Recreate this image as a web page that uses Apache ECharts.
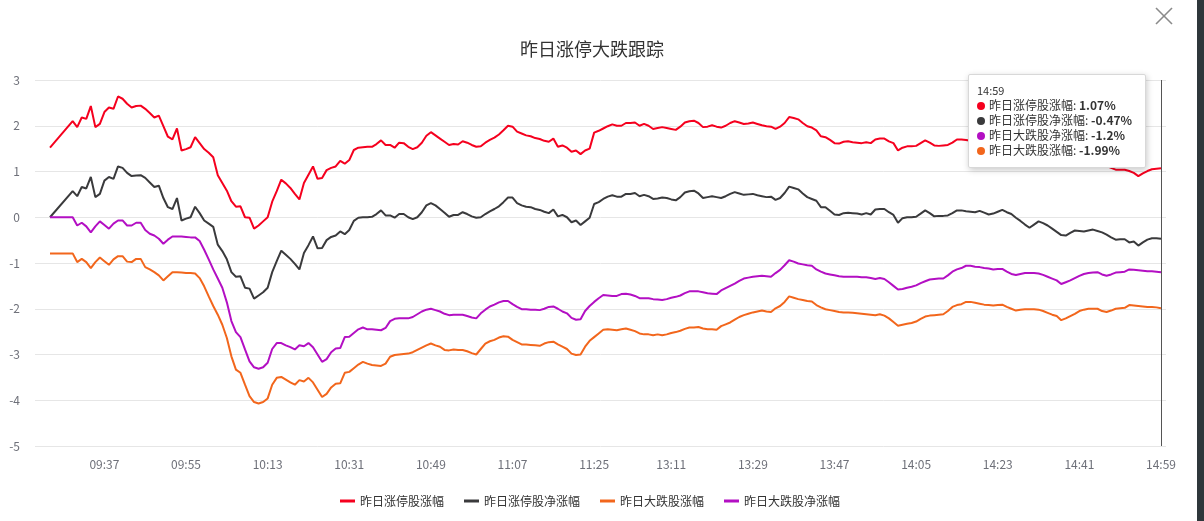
<!DOCTYPE html>
<html><head><meta charset="utf-8">
<script src="https://cdn.jsdelivr.net/npm/echarts/dist/echarts.min.js"></script>
<style>html,body{margin:0;padding:0;background:#fff;}#c{width:1204px;height:521px;}</style>
</head><body><div id="c"></div><script>
// categories: every minute 09:25-11:30 and 13:00-14:59
const times = [];
function pushRange(h1, m1, h2, m2) {
  for (let t = h1 * 60 + m1; t <= h2 * 60 + m2; t++) {
    const h = Math.floor(t / 60), m = t % 60;
    times.push((h < 10 ? '0' : '') + h + ':' + (m < 10 ? '0' : '') + m);
  }
}
pushRange(9, 25, 11, 30);
pushRange(13, 0, 14, 59);

const tickLabels = ['09:37','09:55','10:13','10:31','10:49','11:07','11:25','13:11','13:29','13:47','14:05','14:23','14:41','14:59'];
const yTicks = { min: -5, max: 3, interval: 1 };
const seriesNames = ['昨日涨停股涨幅','昨日涨停股净涨幅','昨日大跌股净涨幅','昨日大跌股涨幅'];
const legendOrder = ['昨日涨停股涨幅','昨日涨停股净涨幅','昨日大跌股涨幅','昨日大跌股净涨幅'];
const colors = ['#f5001e','#3a3a3c','#b30fc3','#f2661c'];

const limitUp = [1.52,null,null,null,null,2.10,1.97,2.18,2.15,2.43,
1.97,2.04,2.30,2.40,2.37,2.64,2.59,2.48,2.40,2.43,
2.44,2.37,2.28,2.18,2.22,1.99,1.76,1.70,1.94,1.46,
1.49,1.53,1.75,1.62,1.49,1.41,1.31,0.92,0.75,0.58,
0.35,0.23,0.24,0.00,-0.01,-0.25,-0.18,-0.09,0.00,0.34,
0.57,0.82,0.74,0.64,0.51,0.39,0.75,0.93,1.11,0.84,
0.86,1.03,1.08,1.11,1.23,1.17,1.25,1.47,1.52,1.53,
1.54,1.54,1.60,1.68,1.58,1.58,1.52,1.63,1.62,1.54,
1.49,1.53,1.63,1.78,1.86,1.79,1.72,1.65,1.58,1.60,
1.59,1.66,1.63,1.58,1.54,1.55,1.63,1.69,1.74,1.81,
1.90,2.00,1.98,1.87,1.83,1.79,1.77,1.73,1.71,1.67,
1.65,1.72,1.54,1.57,1.52,1.43,1.46,1.38,1.46,1.50,
1.85,1.89,1.94,1.99,2.03,2.00,2.00,2.06,2.06,2.07,
2.00,2.04,2.00,1.93,1.95,1.97,1.95,1.93,1.91,1.98,
2.07,2.10,2.11,2.06,1.97,1.98,2.01,1.98,1.96,2.00,
2.06,2.10,2.07,2.04,2.05,2.07,2.04,2.01,1.99,1.98,
1.93,1.98,2.06,2.19,2.17,2.14,2.06,1.99,1.96,1.90,
1.77,1.75,1.69,1.62,1.61,1.65,1.66,1.64,1.63,1.62,
1.64,1.62,1.70,1.72,1.72,1.66,1.62,1.46,1.52,1.55,
1.55,1.56,1.62,1.68,1.63,1.57,1.56,1.57,1.58,1.63,
1.70,1.70,1.69,1.67,1.66,1.65,1.66,1.66,1.67,1.69,
1.71,1.66,1.60,1.53,1.46,1.40,1.33,1.38,1.42,1.37,
1.31,1.27,1.22,1.19,1.21,1.24,1.25,1.26,1.26,1.26,
1.26,1.21,1.17,1.12,1.08,1.04,1.04,1.04,1.01,0.97,
0.90,0.96,1.01,1.05,1.06,1.07];

const limitUpNet = [0.00,null,null,null,null,0.57,0.46,0.66,0.63,0.88,
0.44,0.51,0.80,0.88,0.84,1.11,1.08,0.97,0.90,0.91,
0.92,0.86,0.76,0.66,0.69,0.42,0.22,0.18,0.42,-0.07,
-0.03,0.00,0.23,0.09,-0.07,-0.14,-0.21,-0.60,-0.74,-0.92,
-1.20,-1.30,-1.29,-1.54,-1.56,-1.78,-1.71,-1.64,-1.54,-1.20,
-0.96,-0.73,-0.82,-0.91,-1.02,-1.14,-0.78,-0.61,-0.42,-0.68,
-0.67,-0.50,-0.43,-0.40,-0.31,-0.37,-0.28,-0.08,-0.01,0.00,
0.00,0.01,0.07,0.15,0.04,0.04,-0.01,0.07,0.07,0.00,
-0.04,0.00,0.11,0.26,0.31,0.26,0.18,0.10,0.01,0.05,
0.05,0.11,0.07,0.02,-0.01,0.00,0.07,0.13,0.18,0.24,
0.33,0.43,0.43,0.31,0.26,0.23,0.22,0.18,0.16,0.12,
0.09,0.17,0.02,0.05,0.00,-0.11,-0.07,-0.17,-0.09,-0.01,
0.29,0.33,0.40,0.45,0.48,0.45,0.45,0.51,0.51,0.53,
0.46,0.49,0.46,0.40,0.41,0.43,0.42,0.39,0.37,0.44,
0.54,0.57,0.58,0.52,0.42,0.44,0.46,0.44,0.42,0.46,
0.51,0.55,0.52,0.49,0.50,0.51,0.48,0.46,0.44,0.45,
0.38,0.42,0.53,0.67,0.64,0.61,0.52,0.44,0.40,0.36,
0.22,0.22,0.14,0.06,0.05,0.09,0.10,0.09,0.08,0.06,
0.09,0.06,0.17,0.18,0.18,0.11,0.05,-0.12,-0.02,0.00,
0.00,0.01,0.08,0.15,0.09,0.02,0.03,0.03,0.04,0.09,
0.15,0.15,0.13,0.12,0.11,0.14,0.10,0.06,0.08,0.12,
0.16,0.11,0.07,-0.01,-0.08,-0.16,-0.23,-0.16,-0.09,-0.13,
-0.18,-0.25,-0.32,-0.39,-0.40,-0.34,-0.29,-0.30,-0.31,-0.29,
-0.27,-0.30,-0.33,-0.38,-0.44,-0.49,-0.48,-0.48,-0.55,-0.53,
-0.62,-0.55,-0.49,-0.46,-0.46,-0.47];

const dropNet = [0.00,null,null,null,null,0.00,-0.18,-0.12,-0.20,-0.33,
-0.20,-0.09,-0.17,-0.25,-0.14,-0.07,-0.07,-0.18,-0.18,-0.12,
-0.12,-0.28,-0.36,-0.40,-0.47,-0.58,-0.49,-0.42,-0.42,-0.42,
-0.43,-0.44,-0.44,-0.52,-0.71,-0.92,-1.14,-1.34,-1.54,-1.86,
-2.27,-2.51,-2.62,-2.89,-3.15,-3.28,-3.31,-3.28,-3.18,-2.88,
-2.75,-2.75,-2.80,-2.84,-2.89,-2.80,-2.82,-2.75,-2.84,-3.00,
-3.16,-3.10,-2.95,-2.87,-2.86,-2.62,-2.61,-2.53,-2.45,-2.41,
-2.45,-2.45,-2.46,-2.47,-2.42,-2.27,-2.22,-2.21,-2.21,-2.21,
-2.18,-2.12,-2.06,-2.02,-2.00,-2.03,-2.06,-2.11,-2.14,-2.13,
-2.13,-2.13,-2.16,-2.19,-2.21,-2.10,-2.02,-1.95,-1.91,-1.86,
-1.83,-1.83,-1.90,-1.96,-2.01,-2.01,-2.02,-2.02,-2.03,-2.00,
-1.96,-1.95,-2.00,-2.06,-2.10,-2.20,-2.24,-2.23,-2.05,-1.94,
-1.85,-1.77,-1.70,-1.71,-1.72,-1.72,-1.68,-1.67,-1.69,-1.72,
-1.77,-1.77,-1.77,-1.79,-1.80,-1.81,-1.79,-1.76,-1.74,-1.71,
-1.66,-1.62,-1.62,-1.62,-1.64,-1.66,-1.67,-1.68,-1.60,-1.55,
-1.50,-1.45,-1.39,-1.34,-1.32,-1.30,-1.29,-1.28,-1.29,-1.30,
-1.22,-1.15,-1.05,-0.94,-0.97,-1.01,-1.03,-1.05,-1.06,-1.14,
-1.19,-1.23,-1.25,-1.27,-1.29,-1.30,-1.30,-1.30,-1.30,-1.31,
-1.31,-1.33,-1.35,-1.33,-1.35,-1.42,-1.50,-1.58,-1.57,-1.54,
-1.52,-1.49,-1.44,-1.40,-1.36,-1.35,-1.34,-1.34,-1.27,-1.19,
-1.14,-1.11,-1.06,-1.06,-1.08,-1.09,-1.11,-1.12,-1.14,-1.13,
-1.13,-1.19,-1.24,-1.26,-1.24,-1.22,-1.22,-1.22,-1.23,-1.26,
-1.30,-1.34,-1.38,-1.46,-1.42,-1.38,-1.33,-1.28,-1.24,-1.22,
-1.21,-1.20,-1.25,-1.28,-1.25,-1.21,-1.20,-1.19,-1.14,-1.15,
-1.16,-1.17,-1.18,-1.18,-1.19,-1.20];

const dropChg = [-0.79,null,null,null,null,-0.79,-0.98,-0.91,-0.98,-1.11,
-0.98,-0.88,-0.96,-1.04,-0.92,-0.85,-0.85,-0.97,-0.98,-0.91,
-0.91,-1.09,-1.14,-1.20,-1.27,-1.38,-1.29,-1.20,-1.20,-1.21,
-1.22,-1.22,-1.23,-1.33,-1.51,-1.73,-1.94,-2.13,-2.35,-2.64,
-3.04,-3.33,-3.40,-3.66,-3.91,-4.04,-4.07,-4.04,-3.96,-3.66,
-3.51,-3.49,-3.55,-3.61,-3.66,-3.56,-3.59,-3.51,-3.61,-3.77,
-3.93,-3.86,-3.72,-3.64,-3.63,-3.40,-3.38,-3.30,-3.22,-3.16,
-3.20,-3.23,-3.24,-3.25,-3.20,-3.05,-3.01,-3.00,-2.99,-2.98,
-2.95,-2.90,-2.85,-2.80,-2.76,-2.80,-2.83,-2.90,-2.91,-2.89,
-2.90,-2.90,-2.93,-2.97,-3.00,-2.88,-2.76,-2.71,-2.68,-2.63,
-2.60,-2.61,-2.68,-2.73,-2.78,-2.78,-2.79,-2.80,-2.81,-2.76,
-2.73,-2.72,-2.78,-2.83,-2.88,-2.98,-3.01,-3.00,-2.83,-2.70,
-2.62,-2.54,-2.46,-2.45,-2.46,-2.47,-2.45,-2.43,-2.46,-2.49,
-2.54,-2.56,-2.56,-2.58,-2.56,-2.58,-2.56,-2.53,-2.51,-2.48,
-2.44,-2.41,-2.41,-2.40,-2.43,-2.45,-2.45,-2.46,-2.38,-2.34,
-2.30,-2.24,-2.18,-2.14,-2.11,-2.08,-2.06,-2.04,-2.06,-2.07,
-1.99,-1.94,-1.85,-1.73,-1.76,-1.79,-1.81,-1.83,-1.84,-1.92,
-1.97,-2.01,-2.03,-2.05,-2.07,-2.08,-2.08,-2.09,-2.10,-2.11,
-2.12,-2.13,-2.14,-2.12,-2.15,-2.21,-2.29,-2.37,-2.35,-2.33,
-2.31,-2.28,-2.22,-2.17,-2.15,-2.14,-2.13,-2.12,-2.05,-1.96,
-1.92,-1.90,-1.85,-1.85,-1.87,-1.89,-1.91,-1.92,-1.93,-1.92,
-1.91,-1.96,-2.00,-2.04,-2.02,-2.01,-2.01,-2.01,-2.02,-2.05,
-2.09,-2.13,-2.16,-2.25,-2.21,-2.16,-2.11,-2.05,-2.02,-2.00,
-2.00,-2.00,-2.05,-2.07,-2.04,-2.00,-1.99,-1.98,-1.92,-1.93,
-1.94,-1.95,-1.96,-1.96,-1.97,-1.99];

const seriesData = [limitUp, limitUpNet, dropNet, dropChg];
const FONT = '"Noto Sans CJK SC", "Noto Sans", sans-serif';
const FONT_CSS = FONT.replace(/"/g, "'");

const chart = echarts.init(document.getElementById('c'));
chart.setOption({
  animation: false,
  backgroundColor: '#ffffff',
  textStyle: { fontFamily: FONT },
  title: {
    text: '昨日涨停大跌跟踪',
    left: 587, top: 35, textAlign: 'center',
    textStyle: { fontSize: 18, fontWeight: 'normal', color: '#333', fontFamily: FONT }
  },
  legend: {
    data: legendOrder,
    left: 335, top: 490,
    icon: 'rect', itemWidth: 15, itemHeight: 3, itemGap: 20,
    textStyle: { fontSize: 12, color: '#333', fontFamily: FONT }
  },
  tooltip: {
    trigger: 'axis',
    alwaysShowContent: true,
    transitionDuration: 0,
    position: function () { return [968, 74]; },
    backgroundColor: '#fff',
    borderColor: '#d8d8d8',
    borderWidth: 1,
    padding: [8, 13, 10, 8],
    extraCssText: 'box-shadow:1px 2px 6px rgba(0,0,0,0.22);border-radius:2px;',
    axisPointer: { type: 'line', lineStyle: { color: '#555', width: 1, type: 'solid' } },
    formatter: function (ps) {
      let h = '<div style="font-size:11px;color:#333;line-height:14px;font-family:' + FONT_CSS + '">' + ps[0].axisValue + '</div>';
      ps.forEach(function (p) {
        h += '<div style="font-size:12px;color:#333;line-height:15px;white-space:nowrap;font-family:' + FONT_CSS + '">' +
          '<span style="display:inline-block;width:8px;height:8px;border-radius:4px;background:' + p.color + ';margin-right:4px;"></span>' +
          p.seriesName + ': <b>' + p.value + '%</b></div>';
      });
      return h;
    }
  },
  grid: [
    { left: 35, right: 38, top: 80, bottom: 75, outerBoundsMode: 'none', containLabel: false },
    { left: 50, right: 43, top: 80, bottom: 75, outerBoundsMode: 'none', containLabel: false }
  ],
  xAxis: [
    { gridIndex: 0, type: 'value', show: false, min: 0, max: 1 },
    {
      gridIndex: 1, type: 'category', data: times, boundaryGap: false,
      axisLine: { show: false }, axisTick: { show: false },
      splitLine: { show: false },
      axisLabel: {
        interval: function (idx, val) { return tickLabels.indexOf(val) >= 0; },
        color: '#6e7079', fontSize: 12, margin: 12, fontFamily: FONT, hideOverlap: false
      }
    }
  ],
  yAxis: [
    {
      gridIndex: 0, type: 'value', min: yTicks.min, max: yTicks.max, interval: yTicks.interval,
      axisLine: { show: false }, axisTick: { show: false },
      axisLabel: { color: '#6e7079', fontSize: 12, margin: 15, fontFamily: FONT },
      splitLine: { show: true, lineStyle: { color: '#e6e6e6', width: 1 } }
    },
    {
      gridIndex: 1, type: 'value', min: yTicks.min, max: yTicks.max, interval: yTicks.interval,
      show: false, splitLine: { show: false }
    }
  ],
  series: seriesNames.map(function (n, k) {
    return {
      name: n, type: 'line', xAxisIndex: 1, yAxisIndex: 1,
      data: seriesData[k], symbol: 'none', connectNulls: true,
      color: colors[k],
      lineStyle: { width: 2, color: colors[k] },
      emphasis: { disabled: true }
    };
  }),
  graphic: [
    { type: 'line', shape: { x1: 1156, y1: 8, x2: 1172, y2: 24 }, style: { stroke: '#8a8a8a', lineWidth: 1.6 } },
    { type: 'line', shape: { x1: 1172, y1: 8, x2: 1156, y2: 24 }, style: { stroke: '#8a8a8a', lineWidth: 1.6 } },
    { type: 'rect', shape: { x: 1197, y: 0, width: 7, height: 521 }, style: { fill: '#2e373b' } }
  ]
});
chart.dispatchAction({ type: 'showTip', seriesIndex: 0, dataIndex: times.length - 1 });
</script></body></html>
